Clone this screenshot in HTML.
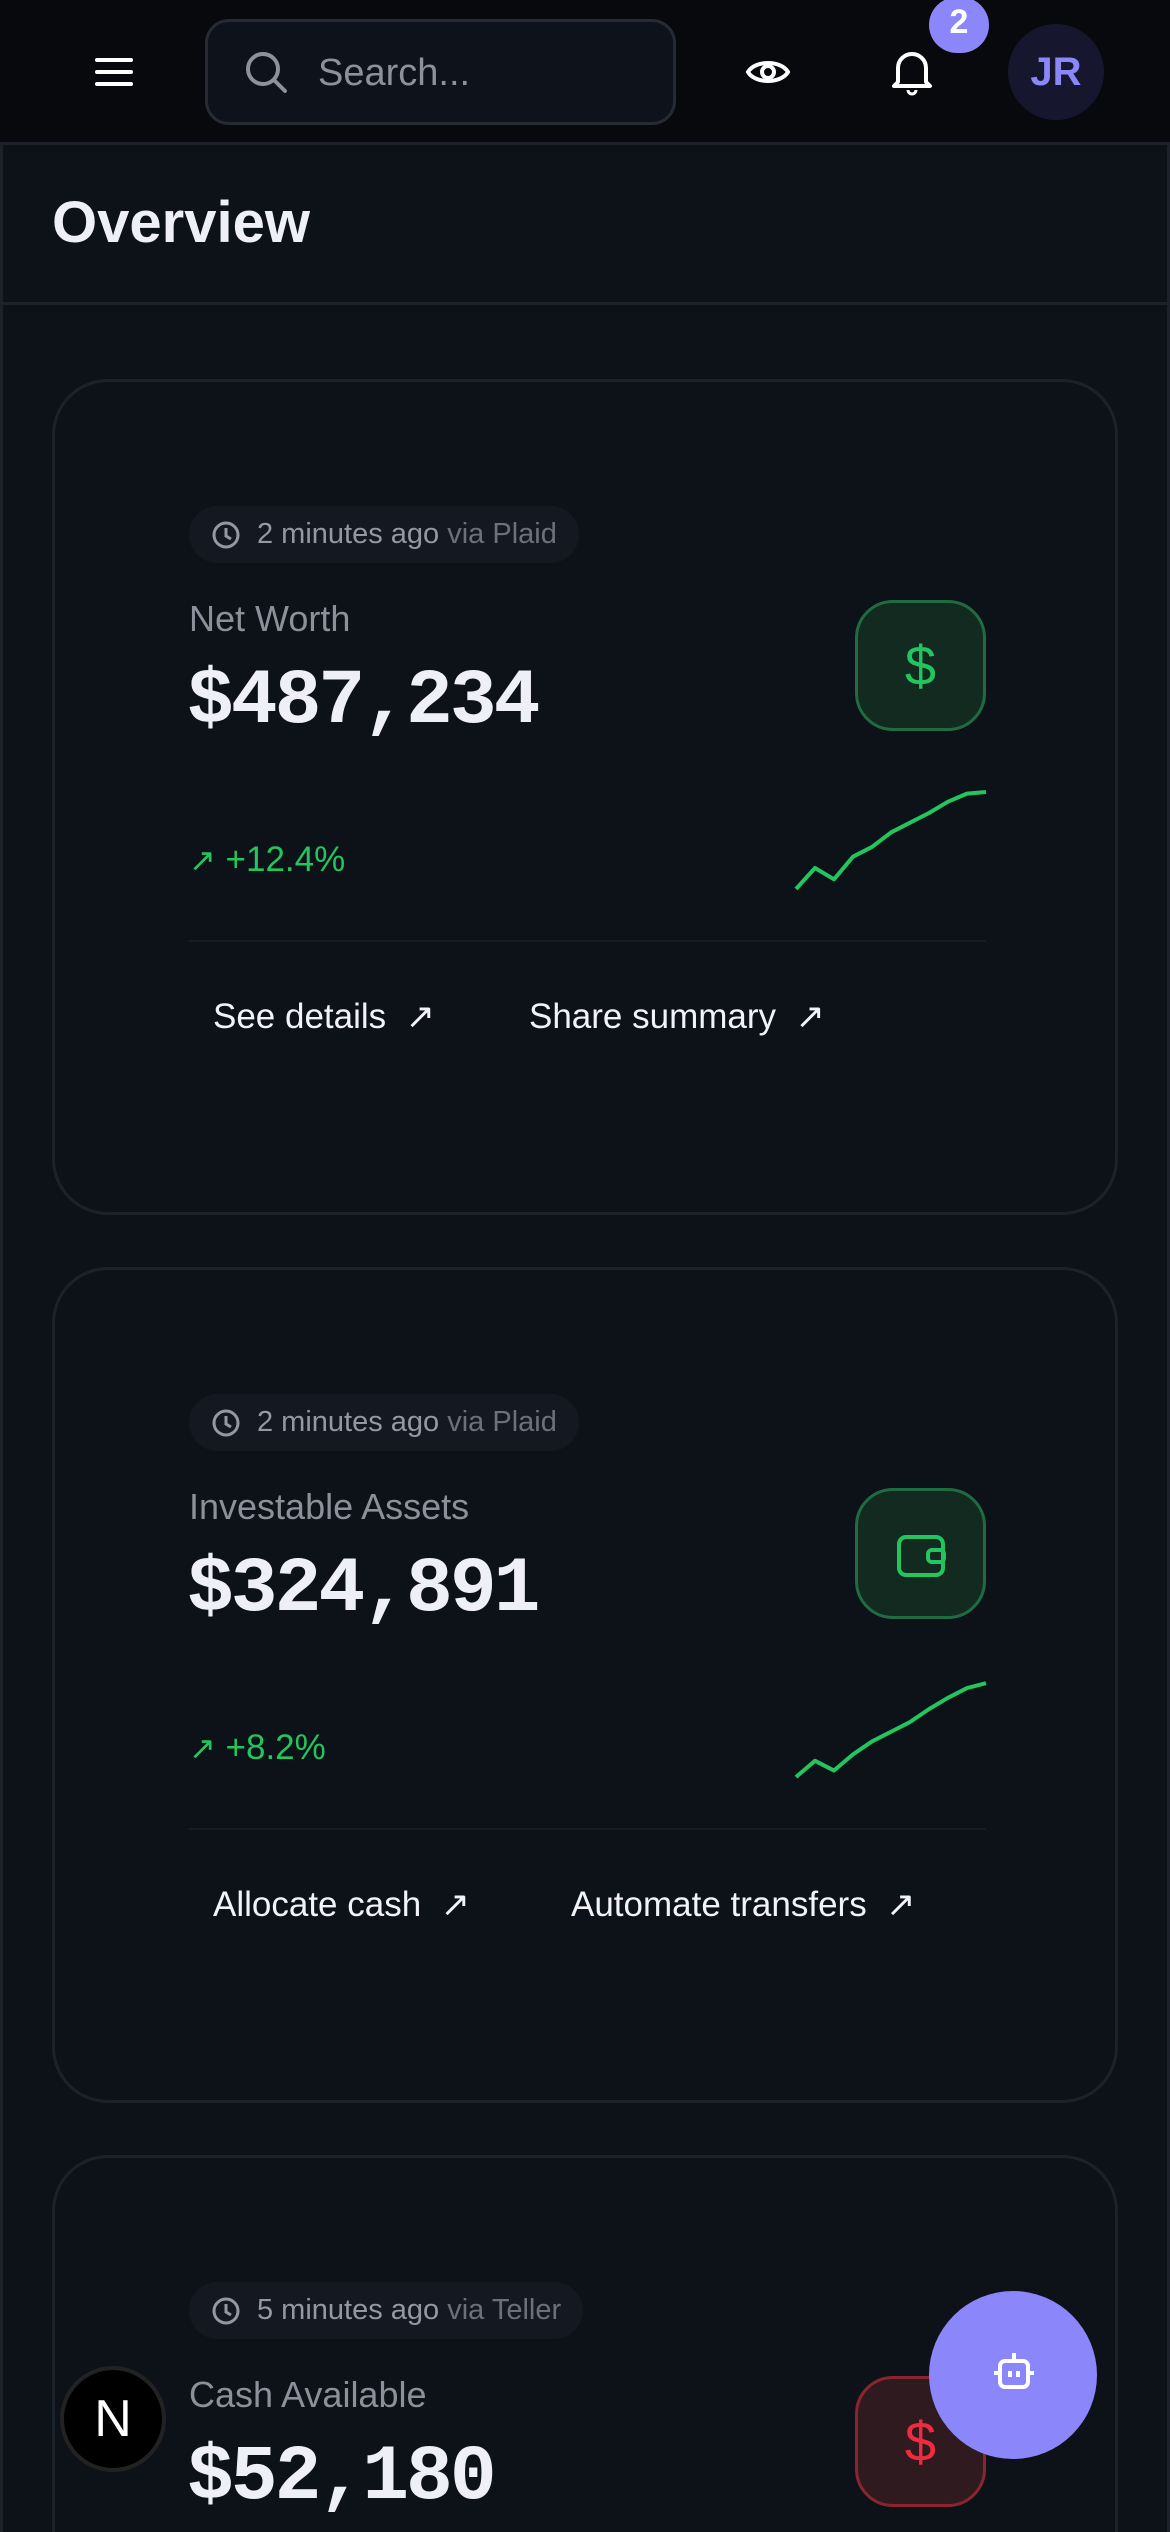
<!DOCTYPE html>
<html style="width:1170px;height:2532px;overflow:hidden"><head><meta charset="utf-8">
<style>
*{margin:0;padding:0;box-sizing:border-box}
body{width:1170px;height:2532px;background:#0d1118;font-family:"Liberation Sans",sans-serif;position:relative;overflow:hidden;color:#eef0f6}
.abs{position:absolute}
.header{left:0;top:0;width:1170px;height:145px;background:#07090c;border-bottom:3px solid #1c212a}
.main{left:0;top:145px;width:1170px;height:2387px;border-left:3px solid #1c212a;border-right:3px solid #1c212a}
.titlebar{left:0;top:145px;width:1170px;height:160px;border-bottom:3px solid #1c212a}
.card{left:52px;width:1066px;height:836px;border:3px solid #1d222a;border-radius:56px;background:#0d1118}
.chip{left:134px;top:124px;height:57px;border-radius:29px;background:#141820;color:#9399a3;font-size:29px;line-height:57px;padding:0 22px 0 68px}
.chip svg{position:absolute;left:22px;top:14px}
.chip .via{color:#6b717b}
.label{left:134px;top:216px;font-size:36px;color:#8b919b}
.value{left:132px;top:276px;font-family:"Liberation Mono",monospace;font-weight:bold;font-size:78px;color:#eef0f6;letter-spacing:-3px}
.icon{left:800px;top:218px;width:131px;height:131px;border-radius:38px;background:#132a21;border:3px solid #1f6b42}
.pct{left:134px;top:458px;font-size:35px;color:#22c55e}
.divider{left:134px;top:558px;width:797px;height:2px;background:#181c24}
.link{top:615px;font-size:35px;color:#f2f3f7}
</style></head><body>
<div class="abs header">
  <svg class="abs" style="left:95px;top:56px" width="38" height="32"><path d="M2 4h34M2 16h34M2 28h34" stroke="#fff" stroke-width="4" stroke-linecap="round"/></svg>
  <div class="abs" style="left:205px;top:19px;width:471px;height:106px;border:3px solid #262b33;border-radius:24px;background:#0e121a">
    <svg class="abs" style="left:36px;top:28px" width="46" height="46"><circle cx="19" cy="19" r="15" stroke="#8c929b" stroke-width="4" fill="none"/><path d="M30 30l11 11" stroke="#8c929b" stroke-width="4" stroke-linecap="round"/></svg>
    <span class="abs" style="left:110px;top:30px;font-size:38px;color:#8c929b">Search...</span>
  </div>
  <svg class="abs" style="left:745px;top:52px" width="46" height="40"><path d="M3 20C10 8 36 8 43 20C36 32 10 32 3 20Z" stroke="#fff" stroke-width="4" fill="none"/><circle cx="23" cy="20" r="6" stroke="#fff" stroke-width="4" fill="none"/></svg>
  <svg class="abs" style="left:890px;top:48px" width="44" height="48"><path d="M8 34V20a14 14 0 0128 0v14l4 4H4z" stroke="#fff" stroke-width="4" fill="none" stroke-linejoin="round"/><path d="M18 42a4 4 0 008 0" stroke="#fff" stroke-width="3" fill="none"/></svg>
  <div class="abs" style="left:929px;top:-3px;width:60px;height:56px;border-radius:28px;background:#8b87fb;color:#fff;font-size:34px;font-weight:bold;text-align:center;line-height:50px">2</div>
  <div class="abs" style="left:1008px;top:24px;width:96px;height:96px;border-radius:50%;background:#16172e;color:#8b87fb;font-size:40px;font-weight:bold;text-align:center;line-height:96px">JR</div>
</div>
<div class="abs main"></div>
<div class="abs titlebar">
  <div class="abs" style="left:52px;top:44px;font-size:58px;font-weight:bold;color:#eef0f6">Overview</div>
</div>

<div class="abs card" style="top:379px">
  <div class="abs chip"><svg width="30" height="30"><circle cx="15" cy="15" r="12" stroke="#9399a3" stroke-width="3" fill="none"/><path d="M15 8v8l5 3" stroke="#9399a3" stroke-width="3" fill="none"/></svg>2 minutes ago <span class="via">via Plaid</span></div>
  <div class="abs label">Net Worth</div>
  <div class="abs value">$487,234</div>
  <div class="abs icon"><div style="text-align:center;line-height:125px;font-size:56px;color:#22c55e">$</div></div>
  <div class="abs pct"><span style="font-size:32px">↗</span> +12.4%</div>
  <svg class="abs spark" id="spark1" style="left:738px;top:404px" width="200" height="110"></svg>
  <div class="abs divider"></div>
  <div class="abs link" style="left:158px">See details&nbsp; ↗</div>
  <div class="abs link" style="left:474px">Share summary&nbsp; ↗</div>
</div>

<div class="abs card" style="top:1267px">
  <div class="abs chip"><svg width="30" height="30"><circle cx="15" cy="15" r="12" stroke="#9399a3" stroke-width="3" fill="none"/><path d="M15 8v8l5 3" stroke="#9399a3" stroke-width="3" fill="none"/></svg>2 minutes ago <span class="via">via Plaid</span></div>
  <div class="abs label">Investable Assets</div>
  <div class="abs value">$324,891</div>
  <div class="abs icon"><svg style="position:absolute;left:38px;top:40px" width="52" height="48"><rect x="3" y="6" width="44" height="38" rx="7" stroke="#22c55e" stroke-width="4" fill="none"/><rect x="32" y="19" width="16" height="12" rx="4" stroke="#22c55e" stroke-width="4" fill="none"/></svg></div>
  <div class="abs pct"><span style="font-size:32px">↗</span> +8.2%</div>
  <svg class="abs spark" id="spark2" style="left:738px;top:404px" width="200" height="110"></svg>
  <div class="abs divider"></div>
  <div class="abs link" style="left:158px">Allocate cash&nbsp; ↗</div>
  <div class="abs link" style="left:516px">Automate transfers&nbsp; ↗</div>
</div>

<div class="abs card" style="top:2155px;height:420px;border-bottom:none;border-radius:56px 56px 0 0">
  <div class="abs chip"><svg width="30" height="30"><circle cx="15" cy="15" r="12" stroke="#9399a3" stroke-width="3" fill="none"/><path d="M15 8v8l5 3" stroke="#9399a3" stroke-width="3" fill="none"/></svg>5 minutes ago <span class="via">via Teller</span></div>
  <div class="abs label">Cash Available</div>
  <div class="abs value">$52,180</div>
  <div class="abs icon" style="background:#2f1b1f;border-color:#8a2530"><div style="text-align:center;line-height:125px;font-size:56px;color:#ef2b3f">$</div></div>
</div>

<div class="abs" style="left:929px;top:2291px;width:168px;height:168px;border-radius:50%;background:#8b87fb">
  <svg style="position:absolute;left:62px;top:58px" width="46" height="48"><path d="M23 4v8" stroke="#fff" stroke-width="4"/><rect x="9" y="12" width="28" height="26" rx="5" stroke="#fff" stroke-width="4" fill="none"/><path d="M3 24h5M38 24h5M19 22v6M27 22v6" stroke="#fff" stroke-width="4"/></svg>
</div>
<div class="abs" style="left:60px;top:2366px;width:106px;height:106px;border-radius:50%;background:#000;border:4px solid #222;color:#fff;font-size:52px;text-align:center;line-height:98px">N</div>

<script>
const spark1Values=[0,13,6,20,26,35,41,47,54,59,60];
const spark2Values=[0,10,4,14,22,28,34,42,49,55,58];
const sparkMax=60;
function drawSpark(id,vals){
  const svg=document.getElementById(id);
  const W=190,H=97,x0=3,y0=103;
  const x=i=>x0+i*W/(vals.length-1);
  const y=v=>y0-v/sparkMax*H;
  const pl=document.createElementNS('http://www.w3.org/2000/svg','polyline');
  pl.setAttribute('points',vals.map((v,i)=>x(i)+','+y(v)).join(' '));
  pl.setAttribute('fill','none');pl.setAttribute('stroke','#22c55e');pl.setAttribute('stroke-width','4');pl.setAttribute('stroke-linejoin','round');
  
  
  svg.appendChild(pl);
}
drawSpark('spark1',spark1Values);
drawSpark('spark2',spark2Values);
</script>
</body></html>
